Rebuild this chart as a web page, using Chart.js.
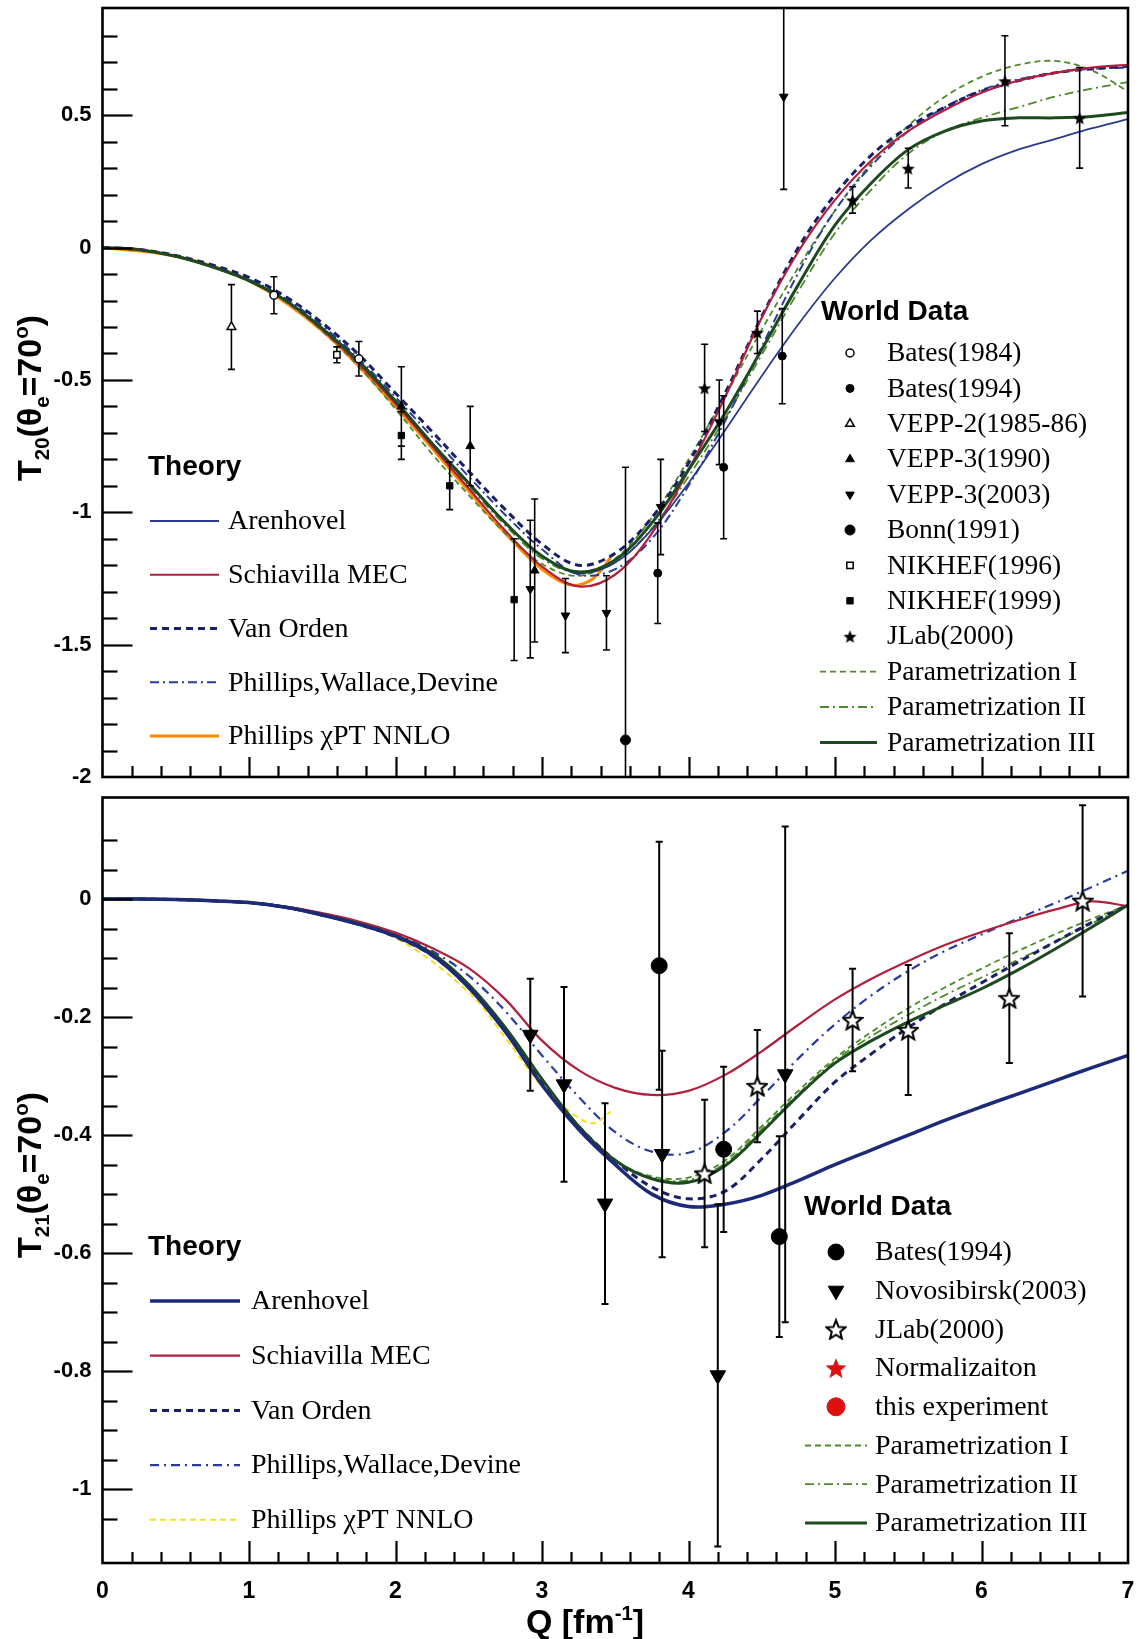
<!DOCTYPE html>
<html><head><meta charset="utf-8">
<script src="https://cdn.jsdelivr.net/npm/chart.js@4.4.1/dist/chart.umd.min.js"></script>
<style>
html,body{margin:0;padding:0;background:#fff;}
#wrap{position:relative;width:1143px;height:1639px;background:#fff;}
#c1{position:absolute;left:0;top:0;width:1143px;height:785px;}
#c2{position:absolute;left:0;top:785px;width:1143px;height:854px;}
</style></head><body>
<div id="wrap"><canvas id="c1" width="1143" height="785"></canvas><canvas id="c2" width="1143" height="854"></canvas></div>
<script>
// ================= DATA =================
const Q = [0,0.25,0.5,0.75,1,1.25,1.5,1.75,2,2.25,2.5,2.75,3,3.25,3.5,3.75,4,4.25,4.5,4.75,5,5.25,5.5,5.75,6,6.25,6.5,6.75,7];

// ---- T20 theory / parametrizations (top panel) ----
const t20Arenhovel = [0,-0.008,-0.033,-0.073,-0.125,-0.2,-0.305,-0.43,-0.58,-0.74,-0.89,-1.04,-1.165,-1.23,-1.19,-1.065,-0.89,-0.69,-0.485,-0.29,-0.115,0.03,0.145,0.24,0.315,0.37,0.41,0.45,0.485];
const t20Schiavilla = [0,-0.008,-0.033,-0.073,-0.125,-0.2,-0.31,-0.44,-0.59,-0.75,-0.91,-1.07,-1.205,-1.28,-1.235,-1.08,-0.84,-0.565,-0.265,-0.015,0.18,0.33,0.44,0.52,0.585,0.63,0.66,0.68,0.69];
const t20VanOrden = [0,-0.007,-0.03,-0.066,-0.113,-0.185,-0.285,-0.405,-0.55,-0.695,-0.845,-0.99,-1.12,-1.2,-1.155,-1.02,-0.815,-0.55,-0.26,0.0,0.2,0.35,0.455,0.53,0.59,0.63,0.66,0.675,0.685];
const t20PWD = [0,-0.008,-0.032,-0.07,-0.12,-0.193,-0.295,-0.42,-0.565,-0.715,-0.865,-1.01,-1.14,-1.235,-1.215,-1.1,-0.9,-0.655,-0.375,-0.095,0.14,0.31,0.44,0.53,0.595,0.635,0.66,0.675,0.68];
const qChiTop = [0,0.5,1,1.5,2,2.5,2.75,3,3.2,3.35,3.47];
const t20Chi = [0,-0.033,-0.125,-0.315,-0.6,-0.92,-1.08,-1.215,-1.275,-1.25,-1.17];
const t20Par1 = [0,-0.008,-0.034,-0.075,-0.128,-0.205,-0.315,-0.45,-0.61,-0.78,-0.935,-1.08,-1.195,-1.24,-1.175,-1.02,-0.8,-0.56,-0.31,-0.075,0.14,0.32,0.46,0.57,0.645,0.69,0.705,0.67,0.59];
const t20Par2 = [0,-0.008,-0.033,-0.073,-0.125,-0.2,-0.305,-0.43,-0.585,-0.745,-0.9,-1.05,-1.175,-1.23,-1.19,-1.06,-0.865,-0.645,-0.405,-0.165,0.055,0.22,0.355,0.44,0.49,0.53,0.57,0.6,0.625];
const t20Par3 = [0,-0.008,-0.033,-0.073,-0.125,-0.2,-0.305,-0.43,-0.58,-0.74,-0.89,-1.04,-1.165,-1.225,-1.18,-1.04,-0.84,-0.625,-0.385,-0.14,0.085,0.245,0.37,0.44,0.478,0.49,0.49,0.495,0.51];

// ---- T20 world data (Q, value, error) ----
const bates84Q = [1.17,1.75], bates84T20 = [-0.18,-0.42], bates84Err = [0.07,0.065];
const bates94Q = [3.79,4.24,4.64], bates94T20 = [-1.23,-0.83,-0.41], bates94Err = [0.19,0.27,0.18];
const vepp2Q = [0.88], vepp2T20 = [-0.30], vepp2Err = [0.16];
const vepp90Q = [2.04,2.51,2.95], vepp90T20 = [-0.60,-0.75,-1.22], vepp90Err = [0.15,0.15,0.27];
const vepp03Q = [2.92,3.16,3.44,3.81,4.21,4.65], vepp03T20 = [-1.29,-1.39,-1.38,-0.98,-0.66,0.57], vepp03Err = [0.26,0.14,0.14,0.18,0.16,0.35];
const bonnQ = [3.57], bonnT20 = [-1.86], bonnErr = [1.03];
const nik96Q = [1.6], nik96T20 = [-0.405], nik96Err = [0.03];
const nik99Q = [2.04,2.37,2.81], nik99T20 = [-0.71,-0.90,-1.33], nik99Err = [0.09,0.09,0.23];
const jlabQ = [4.11,4.47,5.12,5.50,6.16,6.67], jlabT20 = [-0.53,-0.32,0.18,0.30,0.63,0.49], jlabErr = [0.165,0.08,0.05,0.075,0.17,0.19];

// ---- T21 theory / parametrizations (bottom panel) ----
const t21Arenhovel = [0,0,-0.001,-0.003,-0.006,-0.014,-0.027,-0.043,-0.063,-0.095,-0.15,-0.225,-0.315,-0.39,-0.45,-0.5,-0.521,-0.517,-0.502,-0.477,-0.45,-0.425,-0.4,-0.375,-0.352,-0.33,-0.308,-0.286,-0.265];
const t21Schiavilla = [0,0,-0.001,-0.003,-0.006,-0.013,-0.024,-0.038,-0.057,-0.083,-0.117,-0.17,-0.24,-0.29,-0.32,-0.332,-0.325,-0.298,-0.258,-0.213,-0.17,-0.135,-0.105,-0.078,-0.056,-0.036,-0.018,-0.004,-0.012];
const t21VanOrden = [0,0,-0.001,-0.003,-0.006,-0.014,-0.027,-0.043,-0.064,-0.096,-0.15,-0.222,-0.308,-0.385,-0.443,-0.488,-0.508,-0.495,-0.44,-0.374,-0.31,-0.262,-0.218,-0.178,-0.142,-0.107,-0.073,-0.04,-0.01];
const t21PWD = [0,0,-0.001,-0.003,-0.006,-0.013,-0.025,-0.04,-0.06,-0.088,-0.13,-0.19,-0.265,-0.335,-0.395,-0.428,-0.43,-0.395,-0.335,-0.27,-0.212,-0.163,-0.122,-0.088,-0.06,-0.033,-0.007,0.02,0.048];
const qChiBot = [0,0.5,1,1.5,2,2.5,2.75,3,3.2,3.35,3.47];
const t21Chi = [0,-0.001,-0.006,-0.028,-0.066,-0.158,-0.235,-0.318,-0.362,-0.38,-0.36];
const t21Par1 = [0,0,-0.001,-0.003,-0.006,-0.014,-0.027,-0.042,-0.062,-0.092,-0.145,-0.218,-0.305,-0.385,-0.443,-0.47,-0.472,-0.443,-0.385,-0.325,-0.27,-0.225,-0.185,-0.15,-0.118,-0.088,-0.06,-0.034,-0.01];
const t21Par2 = [0,0,-0.001,-0.003,-0.006,-0.014,-0.027,-0.042,-0.062,-0.092,-0.145,-0.218,-0.305,-0.385,-0.443,-0.472,-0.476,-0.448,-0.39,-0.33,-0.274,-0.232,-0.196,-0.163,-0.133,-0.103,-0.073,-0.042,-0.01];
const t21Par3 = [0,0,-0.001,-0.003,-0.006,-0.014,-0.027,-0.042,-0.062,-0.092,-0.145,-0.218,-0.305,-0.385,-0.443,-0.474,-0.48,-0.452,-0.395,-0.333,-0.278,-0.24,-0.208,-0.18,-0.152,-0.12,-0.085,-0.048,-0.01];

// ---- T21 world data ----
const bBates94Q = [3.80,4.24,4.62], bBates94T21 = [-0.113,-0.424,-0.572], bBates94Err = [0.21,0.14,0.17];
const novQ = [2.92,3.15,3.43,3.82,4.20,4.66], novT21 = [-0.23,-0.314,-0.516,-0.432,-0.807,-0.297], novErr = [0.095,0.165,0.17,0.175,0.29,0.42];
const bJlabQ = [4.11,4.47,5.12,5.50,6.19,6.69], bJlabT21 = [-0.465,-0.317,-0.205,-0.222,-0.168,-0.003], bJlabErr = [0.125,0.095,0.087,0.11,0.11,0.162];

// ================= HELPERS =================
const xy = (xs, ys) => xs.map((x, i) => ({x: x, y: ys[i]}));
const errData = (groups) => groups.flatMap(([xs, ys, es]) => xs.flatMap((x, i) => [{x: x, y: ys[i] - es[i]}, {x: x, y: ys[i] + es[i]}, {x: x, y: null}]));
const isMult = (v, s) => Math.abs(v / s - Math.round(v / s)) < 1e-6;
const fmt = v => { let r = Math.round(v * 100) / 100; if (Object.is(r, -0)) r = 0; return String(r); };

function starImg(size, fill, stroke, lw) {
  const c = document.createElement('canvas');
  c.width = size; c.height = size;
  const g = c.getContext('2d');
  g.beginPath();
  for (let i = 0; i < 10; i++) {
    const r = (i % 2) ? size * 0.2 : size * 0.46;
    const a = -Math.PI / 2 + i * Math.PI / 5;
    g.lineTo(size / 2 + r * Math.cos(a), size / 2 + 1 + r * Math.sin(a));
  }
  g.closePath();
  if (fill) { g.fillStyle = fill; g.fill(); }
  if (stroke) { g.strokeStyle = stroke; g.lineWidth = lw; g.lineJoin = 'miter'; g.stroke(); }
  return c;
}
const starTop = starImg(15, '#000', null, 0);
const starOpen = starImg(22, '#fff', '#000', 2);
const starRed = starImg(24, '#dd1010', null, 0);

const curve = (label, xs, ys, color, width, dash, order) => ({
  label, data: xy(xs, ys), showLine: true, borderColor: color, backgroundColor: color,
  borderWidth: width, borderDash: dash || [], pointRadius: 0, pointHoverRadius: 0,
  tension: 0.35, order: order || 3, isCurve: true
});
const marker = (label, xs, ys, style, radius, fill, bw, rot, order) => ({
  label, data: xy(xs, ys), showLine: false, pointStyle: style, pointRadius: radius,
  pointRotation: rot || 0, pointBackgroundColor: fill, pointBorderColor: fill === '#fff' ? '#000' : fill,
  backgroundColor: fill, borderColor: fill === '#fff' ? '#000' : fill,
  pointBorderWidth: bw, borderWidth: bw, order: order === undefined ? 0 : order
});
const errSet = (groups, lw, cap) => ({
  label: '_err', data: errData(groups), showLine: true, spanGaps: false, borderColor: '#000',
  borderWidth: lw, pointStyle: 'line', pointRadius: cap, pointBorderColor: '#000',
  pointBorderWidth: lw, pointBackgroundColor: '#000', order: 1
});

// ================= PLUGINS =================
const framePlugin = {
  id: 'frame',
  afterDraw(chart) {
    const o = chart.options.plugins.frame; if (!o) return;
    const ctx = chart.ctx, a = chart.chartArea, xs = chart.scales.x, ys = chart.scales.y;
    ctx.save();
    ctx.strokeStyle = '#000'; ctx.lineWidth = 2.2; ctx.lineCap = 'butt';
    ys.ticks.forEach(t => {
      const v = t.value;
      if (!isMult(v, o.yMinor) || v <= ys.min + 1e-9 || v >= ys.max - 1e-9) return;
      const len = isMult(v, o.yMajor) ? o.yMajLen : o.yMinLen;
      const p = Math.round(ys.getPixelForValue(v)) + 0.5;
      ctx.beginPath(); ctx.moveTo(a.left, p); ctx.lineTo(a.left + len, p); ctx.stroke();
    });
    xs.ticks.forEach(t => {
      const v = t.value;
      if (!isMult(v, o.xMinor) || v <= xs.min + 1e-9 || v >= xs.max - 1e-9) return;
      const len = isMult(v, o.xMajor) ? o.xMajLen : o.xMinLen;
      const p = Math.round(xs.getPixelForValue(v)) + 0.5;
      ctx.beginPath(); ctx.moveTo(p, a.bottom); ctx.lineTo(p, a.bottom - len); ctx.stroke();
    });
    ctx.lineWidth = 2.6;
    ctx.strokeRect(a.left, a.top, a.right - a.left, a.bottom - a.top);
    ctx.restore();
  }
};

function richWidth(ctx, parts, size) {
  let w = 0;
  parts.forEach(p => { const s = p[1] === 'n' ? size : size * 0.6; ctx.font = 'bold ' + s + 'px "Liberation Sans", Arial, sans-serif'; w += ctx.measureText(p[0]).width; });
  return w;
}
function richDraw(ctx, parts, size, x, y) {
  parts.forEach(p => {
    const s = p[1] === 'n' ? size : size * 0.6;
    ctx.font = 'bold ' + s + 'px "Liberation Sans", Arial, sans-serif';
    const dy = p[1] === 'sub' ? size * 0.22 : p[1] === 'sup' ? -size * 0.4 : 0;
    ctx.fillText(p[0], x, y + dy);
    x += ctx.measureText(p[0]).width;
  });
}
const titlesPlugin = {
  id: 'titles',
  afterDraw(chart) {
    const o = chart.options.plugins.titles; if (!o) return;
    const ctx = chart.ctx;
    ctx.save(); ctx.fillStyle = '#000'; ctx.textBaseline = 'alphabetic'; ctx.textAlign = 'left';
    if (o.yTitle) {
      const t = o.yTitle, w = richWidth(ctx, t.parts, t.size);
      ctx.save(); ctx.translate(t.x, t.y); ctx.rotate(-Math.PI / 2);
      richDraw(ctx, t.parts, t.size, -w / 2, t.size * 0.36);
      ctx.restore();
    }
    if (o.xTitle) {
      const t = o.xTitle, w = richWidth(ctx, t.parts, t.size);
      richDraw(ctx, t.parts, t.size, t.x - w / 2, t.y + t.size * 0.36);
    }
    ctx.restore();
  }
};

const legendPlugin = {
  id: 'boxLegend',
  afterDraw(chart) {
    const o = chart.options.plugins.boxLegend; if (!o) return;
    const ctx = chart.ctx;
    ctx.save();
    o.blocks.forEach(b => {
      ctx.fillStyle = '#000'; ctx.textAlign = 'left'; ctx.textBaseline = 'middle';
      ctx.font = b.titleFont;
      ctx.fillText(b.title, b.titleX, b.titleY);
      b.items.forEach((lab, i) => {
        const ds = chart.data.datasets.find(d => d.label === lab);
        const y = b.rowY + i * b.rowStep;
        if (ds) {
          if (ds.isCurve) {
            ctx.save();
            ctx.strokeStyle = ds.borderColor; ctx.lineWidth = ds.borderWidth;
            ctx.setLineDash(ds.borderDash || []);
            ctx.beginPath(); ctx.moveTo(b.lineX1, y); ctx.lineTo(b.lineX2, y); ctx.stroke();
            ctx.restore();
          } else {
            ctx.save();
            ctx.fillStyle = ds.pointBackgroundColor; ctx.strokeStyle = ds.pointBorderColor;
            ctx.lineWidth = ds.pointBorderWidth;
            Chart.helpers.drawPoint(ctx, {pointStyle: ds.pointStyle, rotation: ds.pointRotation || 0, radius: ds.pointRadius, borderWidth: ds.pointBorderWidth}, b.markX, y);
            ctx.restore();
          }
        }
        ctx.fillStyle = '#000'; ctx.font = b.font; ctx.textBaseline = 'middle';
        ctx.fillText(lab, b.textX, y + 1);
      });
    });
    ctx.restore();
  }
};

Chart.defaults.font.family = '"Liberation Sans", Arial, sans-serif';
Chart.defaults.color = '#000';

const tickFont = {family: '"Liberation Sans", Arial, sans-serif', weight: 'bold', size: 22};
const serif = '"Liberation Serif", "Times New Roman", serif';

function baseOptions(cfg) {
  return {
    responsive: false, animation: false, events: [],
    layout: {padding: {top: cfg.padTop, right: 15, left: 0, bottom: 0}},
    scales: {
      x: {
        type: 'linear', min: 0, max: 7,
        afterFit: s => { s.height = cfg.xHeight; s.paddingLeft = 0; s.paddingRight = 0; s.paddingTop = 0; s.paddingBottom = 0; },
        grid: {display: false, drawTicks: false}, border: {display: false},
        ticks: {display: cfg.xLabels, stepSize: 0.2, autoSkip: false, maxRotation: 0, padding: 15, font: {family: '"Liberation Sans", Arial, sans-serif', weight: 'bold', size: 23}, color: '#000',
          callback: v => isMult(v, 1) ? fmt(v) : ''}
      },
      y: {
        type: 'linear', min: cfg.yMin, max: cfg.yMax,
        afterFit: s => { s.width = 102.5; s.paddingTop = 0; s.paddingBottom = 0; s.paddingLeft = 0; s.paddingRight = 0; },
        grid: {display: false, drawTicks: false}, border: {display: false},
        ticks: {stepSize: cfg.yMinor, autoSkip: false, padding: 11, font: tickFont, color: '#000',
          callback: v => isMult(v, cfg.yMajor) ? fmt(v) : ''}
      }
    },
    plugins: {
      legend: {display: false}, tooltip: {enabled: false},
      frame: {yMinor: cfg.yMinor, yMajor: cfg.yMajor, yMajLen: 30, yMinLen: 15, xMinor: 0.2, xMajor: 1, xMajLen: cfg.xMajLen, xMinLen: 11},
      titles: cfg.titles,
      boxLegend: cfg.legend
    }
  };
}

// ================= TOP CHART: T20 =================
const topDatasets = [
  marker('Bates(1984)', bates84Q, bates84T20, 'circle', 4, '#fff', 1.5),
  marker('Bates(1994)', bates94Q, bates94T20, 'circle', 4, '#000', 1),
  marker('VEPP-2(1985-86)', vepp2Q, vepp2T20, 'triangle', 5, '#fff', 1.5),
  marker('VEPP-3(1990)', vepp90Q, vepp90T20, 'triangle', 5, '#000', 1),
  marker('VEPP-3(2003)', vepp03Q, vepp03T20, 'triangle', 5, '#000', 1, 180),
  marker('Bonn(1991)', bonnQ, bonnT20, 'circle', 5, '#000', 1),
  marker('NIKHEF(1996)', nik96Q, nik96T20, 'rect', 4.5, '#fff', 1.5),
  marker('NIKHEF(1999)', nik99Q, nik99T20, 'rect', 4.5, '#000', 1),
  marker('JLab(2000)', jlabQ, jlabT20, starTop, 7, '#000', 1),
  errSet([[bates84Q, bates84T20, bates84Err], [bates94Q, bates94T20, bates94Err], [vepp2Q, vepp2T20, vepp2Err], [vepp90Q, vepp90T20, vepp90Err], [vepp03Q, vepp03T20, vepp03Err], [bonnQ, bonnT20, bonnErr], [nik96Q, nik96T20, nik96Err], [nik99Q, nik99T20, nik99Err], [jlabQ, jlabT20, jlabErr]], 1.6, 3.5),
  curve('Parametrization III', Q, t20Par3, '#1d4a1f', 3, null, 2),
  curve('Arenhovel', Q, t20Arenhovel, '#2b3a8f', 1.8, null, 3),
  curve('Schiavilla MEC', Q, t20Schiavilla, '#b0203e', 2.2, null, 3),
  curve('Van Orden', Q, t20VanOrden, '#1b1f66', 3, [7, 5], 3),
  curve('Phillips,Wallace,Devine', Q, t20PWD, '#2a3c9a', 2, [9, 4, 2, 4], 3),
  curve('Phillips χPT NNLO', qChiTop, t20Chi, '#ff8a00', 3, null, 4),
  curve('Parametrization I', Q, t20Par1, '#4d8a28', 1.8, [6, 4], 3),
  curve('Parametrization II', Q, t20Par2, '#4d8a28', 1.8, [9, 4, 2, 4], 3)
];

new Chart(document.getElementById('c1'), {
  type: 'scatter',
  data: {datasets: topDatasets},
  options: baseOptions({
    padTop: 5, xHeight: 6, xLabels: false, yMin: -2, yMax: 0.905, yMinor: 0.1, yMajor: 0.5, xMajLen: 20,
    titles: {yTitle: {x: 29, y: 398, size: 34, parts: [['T', 'n'], ['20', 'sub'], ['(θ', 'n'], ['e', 'sub'], ['=70', 'n'], ['o', 'sup'], [')', 'n']]}},
    legend: {blocks: [
      {title: 'Theory', titleFont: 'bold 28px "Liberation Sans", Arial, sans-serif', titleX: 148, titleY: 467,
       items: ['Arenhovel', 'Schiavilla MEC', 'Van Orden', 'Phillips,Wallace,Devine', 'Phillips χPT NNLO'],
       rowY: 521, rowStep: 53.75, lineX1: 150, lineX2: 219, textX: 228, font: '28px ' + serif},
      {title: 'World Data', titleFont: 'bold 28px "Liberation Sans", Arial, sans-serif', titleX: 821, titleY: 312,
       items: ['Bates(1984)', 'Bates(1994)', 'VEPP-2(1985-86)', 'VEPP-3(1990)', 'VEPP-3(2003)', 'Bonn(1991)', 'NIKHEF(1996)', 'NIKHEF(1999)', 'JLab(2000)', 'Parametrization I', 'Parametrization II', 'Parametrization III'],
       rowY: 353, rowStep: 35.4, lineX1: 820, lineX2: 877, markX: 850, textX: 887, font: '27.5px ' + serif}
    ]}
  }),
  plugins: [framePlugin, titlesPlugin, legendPlugin]
});

// ================= BOTTOM CHART: T21 =================
const botDatasets = [
  marker('Bates(1994)', bBates94Q, bBates94T21, 'circle', 8, '#000', 1),
  marker('Novosibirsk(2003)', novQ, novT21, 'triangle', 9, '#000', 1, 180),
  marker('JLab(2000)', bJlabQ, bJlabT21, starOpen, 11, '#fff', 1.5),
  marker('Normalizaiton', [], [], starRed, 12, '#dd1010', 1),
  marker('this experiment', [], [], 'circle', 9, '#dd1010', 1),
  errSet([[bBates94Q, bBates94T21, bBates94Err], [novQ, novT21, novErr], [bJlabQ, bJlabT21, bJlabErr]], 2, 3.5),
  curve('Arenhovel', Q, t21Arenhovel, '#1c2a78', 3.5, null, 2),
  curve('Schiavilla MEC', Q, t21Schiavilla, '#b0203e', 2.2, null, 3),
  curve('Van Orden', Q, t21VanOrden, '#1b1f66', 3, [7, 5], 3),
  curve('Phillips,Wallace,Devine', Q, t21PWD, '#2a3c9a', 2.2, [9, 5, 2, 5], 3),
  curve('Phillips χPT NNLO', qChiBot, t21Chi, '#f2e21a', 2, [6, 4], 4),
  curve('Parametrization III', Q, t21Par3, '#1d4a1f', 3, null, 2),
  curve('Parametrization I', Q, t21Par1, '#4d8a28', 1.8, [6, 4], 3),
  curve('Parametrization II', Q, t21Par2, '#4d8a28', 1.8, [9, 4, 2, 4], 3)
];

new Chart(document.getElementById('c2'), {
  type: 'scatter',
  data: {datasets: botDatasets},
  options: baseOptions({
    padTop: 6, xHeight: 76, xLabels: true, yMin: -1.125, yMax: 0.172, yMinor: 0.05, yMajor: 0.2, xMajLen: 22,
    titles: {
      yTitle: {x: 29, y: 390, size: 34, parts: [['T', 'n'], ['21', 'sub'], ['(θ', 'n'], ['e', 'sub'], ['=70', 'n'], ['o', 'sup'], [')', 'n']]},
      xTitle: {x: 585, y: 836, size: 34, parts: [['Q [fm', 'n'], ['-1', 'sup'], [']', 'n']]}
    },
    legend: {blocks: [
      {title: 'Theory', titleFont: 'bold 28px "Liberation Sans", Arial, sans-serif', titleX: 148, titleY: 462,
       items: ['Arenhovel', 'Schiavilla MEC', 'Van Orden', 'Phillips,Wallace,Devine', 'Phillips χPT NNLO'],
       rowY: 516, rowStep: 54.7, lineX1: 150, lineX2: 240, textX: 251, font: '28px ' + serif},
      {title: 'World Data', titleFont: 'bold 28px "Liberation Sans", Arial, sans-serif', titleX: 804, titleY: 422,
       items: ['Bates(1994)', 'Novosibirsk(2003)', 'JLab(2000)', 'Normalizaiton', 'this experiment', 'Parametrization I', 'Parametrization II', 'Parametrization III'],
       rowY: 467, rowStep: 38.7, lineX1: 805, lineX2: 867, markX: 836, textX: 875, font: '28px ' + serif}
    ]}
  }),
  plugins: [framePlugin, titlesPlugin, legendPlugin]
});
</script>
</body></html>
